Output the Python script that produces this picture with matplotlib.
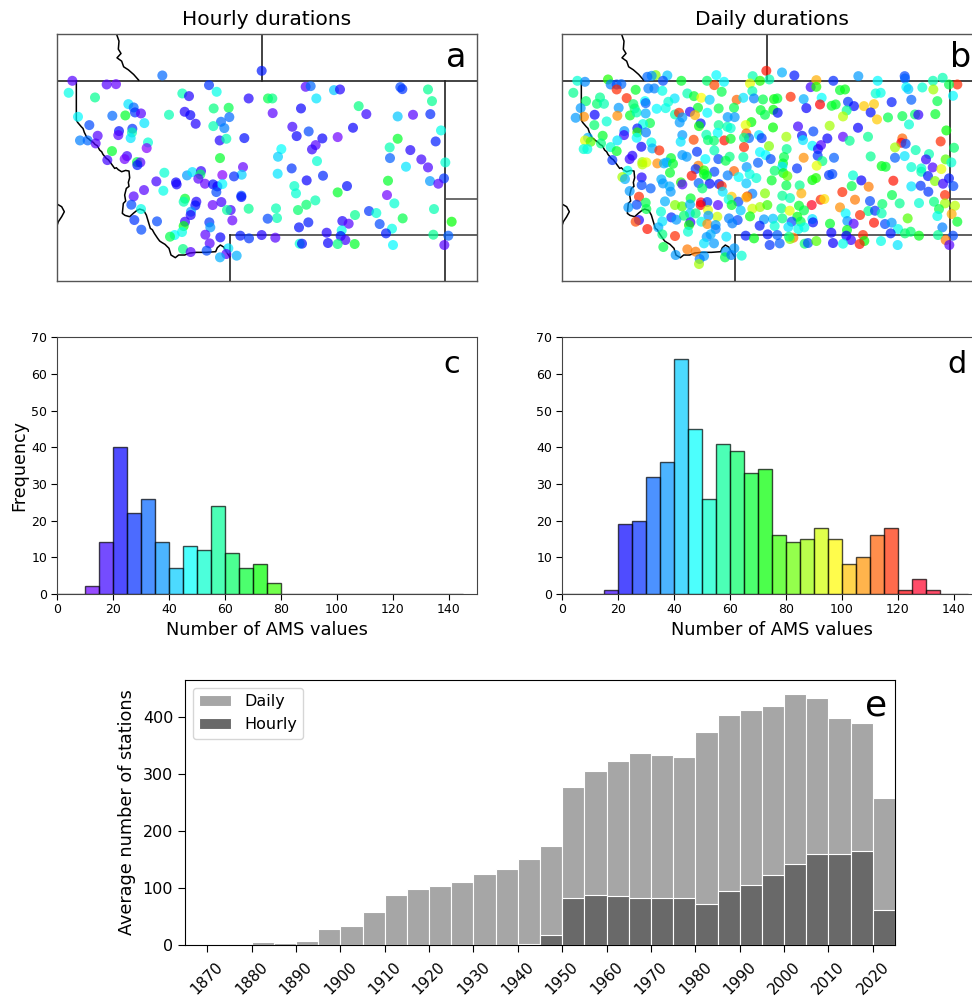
import matplotlib
matplotlib.use('Agg')
import matplotlib.pyplot as plt
from matplotlib.colors import Normalize

# stations (map units = digitised frame, y going down)
hourly_x = [68, 171, 199, 338, 636, 478, 768, 783, 853, 871,
            1052, 1058, 1135, 57, 136, 398, 418, 501, 597, 655,
            668, 800, 1147, 236, 252, 256, 274, 227, 188, 85,
            358, 405, 422, 492, 537, 539, 669, 754, 927, 950,
            1044, 1090, 1142, 284, 119, 438, 514, 491, 524, 728,
            910, 1174, 248, 208, 206, 247, 243, 144, 741, 777,
            818, 864, 1044, 584, 510, 530, 91, 114, 1158, 138,
            295, 291, 187, 798, 787, 695, 1020, 1082, 685, 1021,
            511, 232, 225, 173, 262, 272, 263, 802, 1115, 1187,
            1135, 1069, 726, 580, 344, 412, 428, 454, 452, 446,
            518, 576, 553, 684, 820, 771, 320, 379, 381, 466,
            490, 503, 518, 1015, 1141, 1183, 1166, 734, 892, 283,
            341, 500, 864, 739, 1012, 575, 575, 252, 406, 402,
            440, 437, 515, 489, 797, 1034, 245, 274, 770, 543,
            532, 597, 679, 745, 1153, 958, 980, 424, 423, 916,
            254, 322, 682, 654, 1059, 548, 406, 479, 878, 897,
            776, 1206, 990, 402, 482, 748, 397, 275, 1027, 876,
            375, 361, 467, 831, 1009, 572, 598, 636, 677, 512,
            873, 887, 1151, 1196, 480, 750, 757, 835, 864, 915,
            1030, 1184, 400, 423, 471, 536, 530, 511, 561]
hourly_y = [167, 178, 177, 151, 137, 180, 185, 183, 195, 193,
            186, 192, 193, 203, 217, 205, 213, 200, 220, 220,
            220, 220, 228, 237, 247, 262, 265, 271, 272, 275,
            269, 260, 270, 250, 248, 276, 264, 250, 243, 267,
            274, 269, 267, 294, 300, 296, 290, 303, 309, 305,
            308, 316, 311, 318, 330, 322, 339, 332, 333, 319,
            340, 336, 341, 339, 346, 341, 346, 346, 349, 355,
            352, 369, 378, 360, 373, 372, 367, 375, 395, 399,
            399, 393, 402, 405, 411, 412, 420, 408, 403, 412,
            427, 425, 430, 426, 443, 451, 441, 438, 448, 461,
            450, 449, 454, 446, 452, 466, 469, 472, 478, 476,
            478, 484, 477, 467, 468, 460, 476, 483, 483, 495,
            497, 501, 502, 505, 510, 512, 516, 514, 521, 530,
            530, 541, 531, 540, 526, 535, 539, 552, 539, 555,
            555, 551, 550, 555, 552, 558, 564, 560, 570, 570,
            585, 589, 579, 581, 580, 586, 590, 592, 588, 596,
            592, 590, 597, 603, 607, 607, 621, 614, 611, 616,
            630, 635, 629, 623, 625, 632, 640, 630, 638, 637,
            633, 645, 629, 632, 655, 656, 656, 654, 657, 657,
            660, 660, 672, 681, 677, 670, 687, 697, 692]
hourly_n = [15, 15, 13, 33, 25, 28, 15, 33, 42, 20,
            30, 28, 58, 50, 58, 55, 20, 50, 20, 65,
            60, 45, 58, 45, 33, 28, 15, 68, 33, 47,
            55, 20, 22, 60, 65, 33, 14, 22, 60, 18,
            42, 15, 27, 45, 30, 20, 33, 55, 35, 17,
            22, 50, 28, 24, 15, 55, 45, 15, 22, 30,
            22, 12, 68, 24, 20, 55, 35, 33, 26, 15,
            52, 10, 68, 15, 18, 48, 55, 20, 43, 32,
            68, 17, 12, 17, 65, 15, 25, 52, 17, 52,
            16, 45, 28, 13, 52, 38, 45, 18, 62, 14,
            10, 43, 27, 45, 27, 22, 17, 22, 21, 13,
            24, 22, 47, 68, 38, 28, 15, 53, 24, 15,
            50, 30, 68, 52, 12, 30, 24, 15, 68, 55,
            20, 24, 17, 13, 55, 52, 30, 50, 62, 17,
            57, 58, 55, 62, 55, 28, 52, 38, 20, 58,
            28, 30, 55, 30, 65, 13, 18, 28, 20, 15,
            25, 72, 30, 70, 38, 24, 50, 30, 50, 50,
            48, 65, 14, 20, 25, 25, 28, 20, 15, 22,
            24, 17, 58, 32, 14, 52, 24, 22, 60, 68,
            47, 15, 60, 15, 30, 45, 15, 40, 40]

daily_x = [632, 679, 716, 300, 288, 275, 335, 482, 591, 908,
           1047, 782, 833, 966, 1048, 1132, 1161, 65, 88, 157,
           377, 454, 505, 613, 641, 322, 583, 476, 1205, 1180,
           165, 183, 197, 183, 240, 278, 296, 320, 498, 590,
           765, 782, 853, 868, 1052, 1058, 1100, 1133, 53, 133,
           91, 124, 145, 213, 233, 268, 270, 357, 338, 395,
           415, 437, 462, 543, 563, 595, 622, 655, 665, 705,
           744, 798, 960, 975, 1192, 1145, 1067, 1008, 877, 895,
           925, 955, 840, 828, 793, 752, 189, 237, 303, 330,
           427, 489, 535, 615, 653, 873, 945, 666, 75, 117,
           85, 60, 185, 223, 243, 270, 153, 358, 370, 403,
           418, 380, 455, 516, 537, 628, 862, 964, 997, 1040,
           1078, 1088, 1139, 116, 283, 262, 372, 435, 430, 489,
           515, 525, 587, 570, 727, 822, 652, 907, 1060, 1172,
           206, 245, 245, 271, 141, 205, 243, 380, 452, 486,
           572, 610, 773, 739, 692, 862, 937, 580, 618, 97,
           88, 105, 136, 185, 287, 375, 414, 457, 475, 506,
           525, 565, 742, 815, 882, 1040, 1037, 1050, 1155, 165,
           95, 84, 257, 290, 311, 565, 640, 693, 770, 796,
           1018, 1080, 1195, 183, 424, 476, 613, 630, 787, 786,
           522, 380, 393, 685, 230, 222, 346, 488, 563, 645,
           744, 835, 945, 1018, 1047, 1120, 1111, 1170, 1187, 170,
           260, 272, 260, 305, 325, 333, 352, 449, 510, 607,
           682, 800, 783, 978, 990, 1067, 1097, 573, 680, 724,
           428, 420, 445, 1131, 1157, 1097, 216, 343, 476, 535,
           657, 683, 820, 830, 892, 1117, 408, 445, 454, 516,
           549, 582, 200, 208, 258, 317, 602, 648, 695, 770,
           781, 917, 1013, 1138, 1180, 1162, 376, 380, 429, 462,
           490, 498, 572, 732, 692, 888, 939, 1067, 1095, 1193,
           258, 322, 342, 440, 1118, 285, 222, 345, 250, 628,
           590, 575, 528, 501, 737, 860, 1009, 1168, 680, 703,
           898, 795, 806, 405, 270, 328, 436, 455, 519, 548,
           572, 1032, 1090, 1135, 980, 943, 768, 730, 487, 358,
           379, 403, 435, 528, 243, 1168, 1198, 590, 613, 635,
           853, 218, 272, 316, 403, 420, 457, 555, 677, 702,
           745, 938, 958, 1150, 347, 362, 320, 250, 240, 485,
           458, 385, 583, 770, 680, 652, 625, 870, 913, 978,
           1056, 1145, 1188, 725, 520, 546, 404, 437, 455, 480,
           530, 708, 735, 772, 823, 875, 894, 955, 988, 1008,
           1205, 612, 657, 698, 746, 400, 275, 308, 320, 358,
           397, 480, 1027, 1160, 874, 728, 465, 453, 512, 570,
           595, 636, 665, 713, 703, 700, 827, 922, 872, 1005,
           1048, 1065, 1090, 1147, 1192, 642, 672, 886, 926, 976,
           747, 757, 782, 832, 862, 912, 1026, 1170, 1181, 323,
           395, 420, 445, 475, 536, 510, 360, 445, 432, 508,
           527, 558, 430]
daily_y = [137, 142, 151, 150, 152, 155, 151, 150, 153, 153,
           153, 165, 167, 167, 160, 167, 158, 167, 170, 163,
           167, 167, 170, 167, 163, 167, 175, 180, 178, 178,
           178, 178, 177, 193, 194, 190, 190, 197, 200, 198,
           186, 185, 195, 193, 186, 192, 187, 193, 203, 217,
           228, 236, 236, 219, 237, 228, 234, 220, 230, 205,
           213, 218, 224, 224, 218, 220, 223, 222, 220, 215,
           222, 218, 205, 203, 212, 228, 224, 231, 230, 243,
           243, 237, 238, 242, 238, 249, 248, 250, 251, 249,
           248, 250, 248, 255, 254, 256, 262, 263, 249, 269,
           275, 278, 272, 271, 262, 265, 289, 268, 263, 260,
           270, 277, 263, 276, 276, 269, 274, 283, 277, 273,
           268, 269, 267, 300, 294, 297, 292, 295, 303, 300,
           305, 309, 291, 300, 304, 302, 307, 308, 298, 316,
           318, 310, 322, 322, 332, 330, 338, 330, 329, 323,
           325, 330, 319, 332, 335, 335, 335, 339, 339, 338,
           346, 350, 355, 346, 352, 350, 344, 345, 347, 346,
           341, 338, 345, 340, 347, 340, 353, 356, 349, 366,
           372, 372, 365, 370, 376, 366, 363, 372, 362, 360,
           367, 375, 368, 378, 380, 376, 381, 390, 372, 392,
           395, 390, 395, 396, 392, 402, 399, 402, 396, 402,
           398, 398, 394, 398, 393, 387, 403, 403, 412, 405,
           411, 412, 418, 415, 415, 412, 416, 402, 407, 413,
           415, 408, 422, 423, 425, 426, 430, 426, 425, 430,
           422, 432, 436, 427, 432, 440, 437, 443, 440, 438,
           437, 444, 450, 447, 451, 453, 452, 447, 452, 451,
           456, 447, 456, 462, 457, 463, 459, 466, 453, 465,
           459, 466, 467, 468, 460, 476, 472, 478, 474, 476,
           477, 483, 475, 481, 481, 483, 485, 484, 482, 483,
           480, 475, 484, 490, 500, 490, 498, 500, 515, 505,
           506, 514, 515, 500, 505, 501, 510, 510, 512, 519,
           524, 524, 522, 520, 533, 529, 532, 531, 523, 530,
           517, 535, 534, 530, 537, 528, 540, 542, 540, 540,
           544, 538, 540, 540, 539, 535, 542, 551, 546, 540,
           547, 547, 552, 560, 565, 565, 555, 556, 550, 557,
           556, 558, 557, 552, 577, 584, 589, 585, 590, 575,
           572, 572, 574, 582, 580, 581, 583, 565, 570, 565,
           580, 573, 567, 575, 580, 585, 592, 590, 597, 600,
           595, 590, 590, 592, 596, 588, 596, 593, 597, 593,
           590, 602, 603, 606, 607, 600, 612, 607, 628, 633,
           620, 612, 612, 607, 615, 612, 628, 636, 635, 632,
           640, 628, 630, 638, 642, 635, 623, 630, 632, 625,
           625, 620, 632, 630, 632, 660, 655, 645, 648, 648,
           656, 654, 648, 654, 656, 657, 660, 645, 660, 666,
           673, 680, 655, 655, 670, 680, 690, 693, 702, 697,
           690, 692, 717]
daily_n = [120, 40, 25, 85, 38, 33, 42, 47, 55, 38,
           30, 105, 27, 47, 32, 55, 55, 52, 36, 75,
           68, 62, 47, 75, 55, 30, 95, 115, 118, 65,
           35, 30, 33, 118, 68, 35, 35, 50, 65, 55,
           17, 75, 68, 70, 47, 42, 52, 88, 58, 58,
           62, 62, 55, 118, 62, 48, 32, 45, 52, 55,
           68, 97, 43, 112, 45, 35, 65, 72, 68, 118,
           40, 48, 52, 50, 47, 65, 32, 25, 28, 24,
           102, 102, 68, 68, 122, 22, 38, 62, 47, 50,
           68, 65, 65, 68, 72, 58, 24, 24, 38, 22,
           108, 38, 108, 68, 55, 40, 52, 55, 118, 20,
           105, 38, 47, 38, 38, 65, 90, 102, 65, 65,
           62, 18, 68, 62, 65, 50, 38, 25, 72, 58,
           55, 52, 72, 95, 17, 88, 72, 22, 52, 72,
           38, 25, 75, 35, 68, 18, 47, 38, 55, 48,
           112, 45, 30, 24, 88, 14, 58, 33, 28, 40,
           95, 80, 60, 45, 50, 45, 115, 62, 62, 120,
           68, 60, 45, 22, 58, 112, 122, 30, 118, 52,
           50, 52, 22, 40, 118, 118, 85, 58, 47, 16,
           88, 55, 62, 68, 28, 55, 47, 47, 20, 28,
           60, 38, 38, 65, 20, 18, 68, 30, 55, 30,
           108, 32, 58, 32, 45, 55, 18, 80, 52, 28,
           88, 95, 90, 108, 40, 40, 68, 47, 65, 32,
           68, 60, 95, 70, 68, 52, 52, 38, 45, 28,
           110, 28, 75, 16, 95, 55, 50, 68, 30, 112,
           62, 70, 28, 30, 52, 25, 120, 70, 68, 35,
           48, 50, 88, 40, 20, 40, 52, 68, 82, 72,
           75, 22, 120, 85, 25, 18, 75, 15, 32, 24,
           25, 118, 42, 58, 65, 65, 110, 45, 28, 30,
           30, 38, 40, 62, 28, 32, 38, 38, 118, 85,
           35, 115, 102, 45, 105, 118, 65, 118, 58, 55,
           110, 118, 100, 68, 65, 40, 125, 28, 50, 30,
           105, 58, 52, 60, 62, 30, 125, 68, 15, 85,
           80, 40, 122, 68, 30, 88, 90, 92, 88, 78,
           108, 38, 65, 52, 42, 60, 95, 42, 58, 95,
           65, 58, 28, 65, 27, 38, 45, 20, 115, 92,
           38, 62, 70, 45, 60, 42, 38, 47, 118, 55,
           80, 50, 105, 70, 35, 30, 18, 50, 108, 38,
           35, 30, 65, 24, 68, 38, 15, 120, 30, 38,
           68, 25, 52, 45, 50, 72, 120, 40, 60, 118,
           52, 35, 50, 35, 70, 50, 40, 38, 45, 25,
           70, 24, 32, 110, 85, 60, 22, 118, 22, 25,
           62, 62, 70, 58, 30, 28, 32, 18, 72, 50,
           62, 30, 80, 22, 50, 120, 45, 110, 15, 65,
           110, 110, 45, 38, 38, 38, 38, 38, 35, 65,
           35, 52, 88]

# state and province lines on the map
idaho_x = [80, 80, 84, 95, 100, 104, 112, 118, 122, 131, 136, 143, 150, 156, 160, 170, 176, 182, 195, 200, 206, 216,
           228, 238, 240, 236, 238, 230, 225, 228, 221, 218, 226, 240, 252, 262, 270, 282, 290, 296, 302, 308, 314,
           324, 330, 336, 346, 358, 364, 377, 387, 405, 420, 440, 470, 498, 503, 512, 522, 530, 540]
idaho_y = [167, 285, 292, 305, 310, 322, 338, 342, 346, 352, 358, 362, 375, 380, 388, 400, 404, 412, 430, 428, 434, 440,
           436, 438, 458, 472, 484, 490, 510, 528, 535, 565, 571, 575, 564, 556, 552, 556, 570, 590, 610, 614, 625,
           640, 648, 652, 658, 670, 690, 698, 690, 690, 684, 682, 682, 680, 668, 660, 666, 680, 695]
bc_x = [200, 208, 206, 214, 202, 216, 222, 236, 252, 267]
bc_y = [25, 48, 72, 85, 98, 108, 125, 134, 148, 165]
nv_x = [22, 36, 44, 36, 26, 22]
nv_y = [537, 545, 560, 575, 590, 602]

# histogram counts, 5-wide bins from 0
ams_bins = [5 * i for i in range(30)]
hourly_counts = [0, 0, 2, 14, 40, 22, 26, 14, 7, 13, 12, 24, 11, 7, 8, 3, 0, 0, 0, 0, 0, 0, 0, 0, 0, 0, 0, 0, 0]
daily_counts = [0, 0, 0, 1, 19, 20, 32, 36, 64, 45, 26, 41, 39, 33, 34, 16, 14, 15, 18, 15, 8, 10, 16, 18, 1, 4, 1, 0, 0]

# average number of stations, 5 year bins
years = [1865 + 5 * i for i in range(32)]
daily_stations = [0, 0, 2, 5, 3, 7, 28, 33, 58, 88, 98, 104, 110, 124, 133, 150, 174, 277, 305, 323, 337, 333, 329,
                  373, 403, 412, 419, 440, 432, 398, 388, 258]
hourly_stations = [0, 0, 0, 0, 0, 0, 0, 0, 0, 0, 0, 0, 0, 0, 0, 1, 17, 82, 88, 86, 82, 82, 82, 71, 94, 105, 122, 142,
                   160, 160, 164, 62]

year_ticks = list(range(1870, 2021, 10))
ams_ticks = list(range(0, 141, 20))
freq_ticks = list(range(0, 71, 10))
station_ticks = [0, 100, 200, 300, 400]

W, H = 972, 1000
cmap = plt.get_cmap('gist_rainbow_r')
norm = Normalize(vmin=-8, vmax=126)


def box(left, top, right, bottom):
    # axes rectangle given in image pixels
    return [left / W, 1 - bottom / H, (right - left) / W, (bottom - top) / H]


def draw_map(ax, xs, ys, ns, title, letter):
    ax.plot([22, 1282], [167, 167], color='#222222', lw=1.2)
    ax.plot([636, 636], [25, 167], color='#222222', lw=1.2)
    ax.plot([1185, 1185], [167, 768], color='#222222', lw=1.2)
    ax.plot([1185, 1282], [523, 523], color='#444444', lw=1.1)
    ax.plot([540, 1282], [630, 630], color='#444444', lw=1.2)
    ax.plot([540, 540], [630, 768], color='#222222', lw=1.2)
    ax.plot(idaho_x, idaho_y, color='black', lw=1.1)
    ax.plot(bc_x, bc_y, color='black', lw=1.1)
    ax.plot(nv_x, nv_y, color='black', lw=1.1)
    ax.scatter(xs, ys, c=ns, cmap=cmap, norm=norm, s=52, alpha=0.7, linewidths=0, zorder=3)
    ax.set_xlim(22, 1282)
    ax.set_ylim(768, 25)
    ax.set_xticks([])
    ax.set_yticks([])
    for s in ax.spines.values():
        s.set_color('#555555')
        s.set_linewidth(1.0)
    ax.set_title(title, fontsize=14.6, pad=6)
    ax.text(0.95, 0.905, letter, transform=ax.transAxes, fontsize=24, ha='center', va='center')


def draw_hist(ax, counts, letter):
    colors = [cmap(norm(b + 2.5)) for b in ams_bins[:-1]]
    ax.bar(ams_bins[:-1], counts, width=5, align='edge', color=colors, edgecolor='black', linewidth=1.0, alpha=0.7)
    ax.set_xlim(0, 150)
    ax.set_ylim(0, 70)
    ax.set_xticks(ams_ticks)
    ax.set_yticks(freq_ticks)
    ax.tick_params(labelsize=9, length=4, width=0.8, pad=3)
    ax.set_xlabel('Number of AMS values', fontsize=12.8, labelpad=3)
    for s in ax.spines.values():
        s.set_color('#444444')
    ax.text(0.94, 0.893, letter, transform=ax.transAxes, fontsize=22, ha='center', va='center')


fig = plt.figure(figsize=(W / 100, H / 100), dpi=100)

ax_a = fig.add_axes(box(57, 33.5, 477, 281))
ax_b = fig.add_axes(box(562, 33.5, 982, 281))
ax_c = fig.add_axes(box(57, 337.5, 477, 593.7))
ax_d = fig.add_axes(box(562, 337.5, 982, 593.7))
ax_e = fig.add_axes(box(185, 680, 895, 945))

draw_map(ax_a, hourly_x, hourly_y, hourly_n, 'Hourly durations', 'a')
# the daily map was read 3 units to the left of the hourly one
draw_map(ax_b, [x + 3 for x in daily_x], daily_y, daily_n, 'Daily durations', 'b')
draw_hist(ax_c, hourly_counts, 'c')
draw_hist(ax_d, daily_counts, 'd')
ax_c.set_ylabel('Frequency', fontsize=12.6, labelpad=2)

ax_e.bar(years, daily_stations, width=5, align='edge', color='#a6a6a6', edgecolor='white', linewidth=0.8,
         label='Daily')
ax_e.bar(years, hourly_stations, width=5, align='edge', color='#696969', edgecolor='white', linewidth=0.8,
         label='Hourly')
ax_e.set_xlim(1865, 2025)
ax_e.set_ylim(0, 464)
ax_e.set_xticks(year_ticks)
ax_e.set_yticks(station_ticks)
ax_e.tick_params(labelsize=11.5, length=5, width=0.8)
ax_e.tick_params(axis='x', labelrotation=45, labelsize=11, pad=5)
ax_e.set_ylabel('Average number of stations', fontsize=12.7, labelpad=5)
ax_e.legend(loc='upper left', fontsize=11.5)
ax_e.text(0.973, 0.905, 'e', transform=ax_e.transAxes, fontsize=26, ha='center', va='center')

fig.savefig('out.png', dpi=100)
